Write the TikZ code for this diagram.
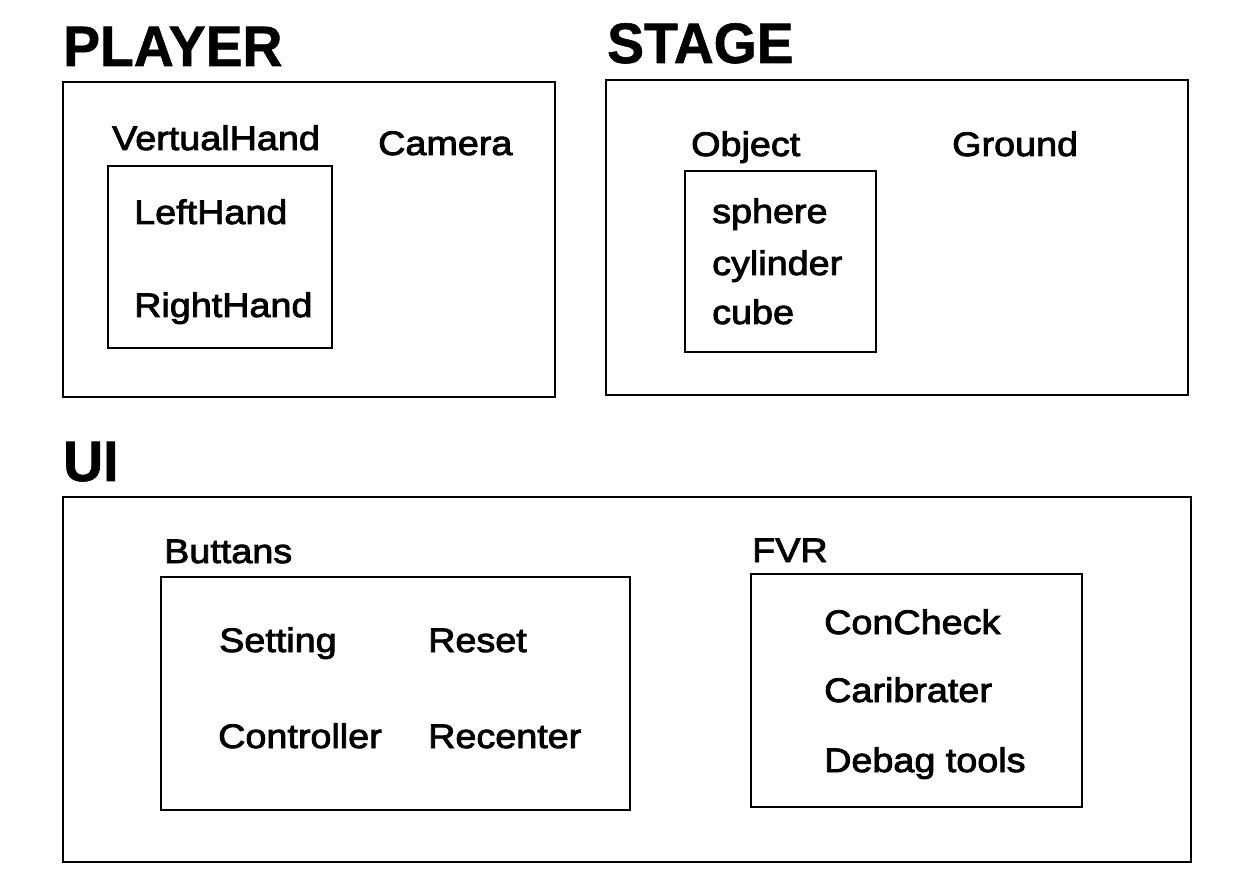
\documentclass[tikz,border=0pt]{standalone}
\usepackage{fontspec}
\setmainfont{Liberation Sans}[FakeStretch=1.11,FakeBold=2.5]
\newfontfamily\headfont{Liberation Sans}[FakeStretch=0.97,BoldFont={* Bold},BoldFeatures={FakeBold=1}]
\begin{document}
\begin{tikzpicture}[x=1pt,y=-1pt,
  outerbox/.style={draw=black,line width=2.6pt},
  innerbox/.style={draw=black,line width=1.6pt},
  head/.style={anchor=base west,inner sep=0pt,font=\headfont\bfseries\fontsize{57}{60}\selectfont},
  lbl/.style={anchor=base west,inner sep=0pt,font=\fontsize{34}{40}\selectfont}]
\useasboundingbox[fill=white] (0,0) rectangle (1240,874);
% headings
\node[head] (player) at (63,66) {PLAYER};
\node[head] (stage) at (607,63) {STAGE};
\node[head] (ui) at (63,481) {UI};
% boxes
\draw[outerbox] (63,82) rectangle (555,397);
\draw[innerbox] (108,166) rectangle (332,348);
\draw[outerbox] (606,80) rectangle (1188,395);
\draw[innerbox] (685,171) rectangle (876,352);
\draw[outerbox] (63,497) rectangle (1191,862);
\draw[innerbox] (161,577) rectangle (630,810);
\draw[innerbox] (751,574) rectangle (1082,807);
% PLAYER
\node[lbl] (vh) at (112,150) {VertualHand};
\node[lbl] (cam) at (378,155) {Camera};
\node[lbl] (lh) at (134,224) {LeftHand};
\node[lbl] (rh) at (134,317) {RightHand};
% STAGE
\node[lbl] (obj) at (691,156) {Object};
\node[lbl] (gnd) at (952,156) {Ground};
\node[lbl] (sph) at (712,223) {sphere};
\node[lbl] (cyl) at (712,275) {cylinder};
\node[lbl] (cub) at (712,324) {cube};
% UI
\node[lbl] (but) at (164,563) {Buttans};
\node[lbl] (fvr) at (752,562) {FVR};
\node[lbl] (set) at (219,652) {Setting};
\node[lbl] (rst) at (428,652) {Reset};
\node[lbl] (ctl) at (218,748) {Controller};
\node[lbl] (rct) at (428,748) {Recenter};
\node[lbl] (cc) at (824,634) {ConCheck};
\node[lbl] (cal) at (824,702) {Caribrater};
\node[lbl] (dbg) at (824,772) {Debag tools};
\end{tikzpicture}
\end{document}
